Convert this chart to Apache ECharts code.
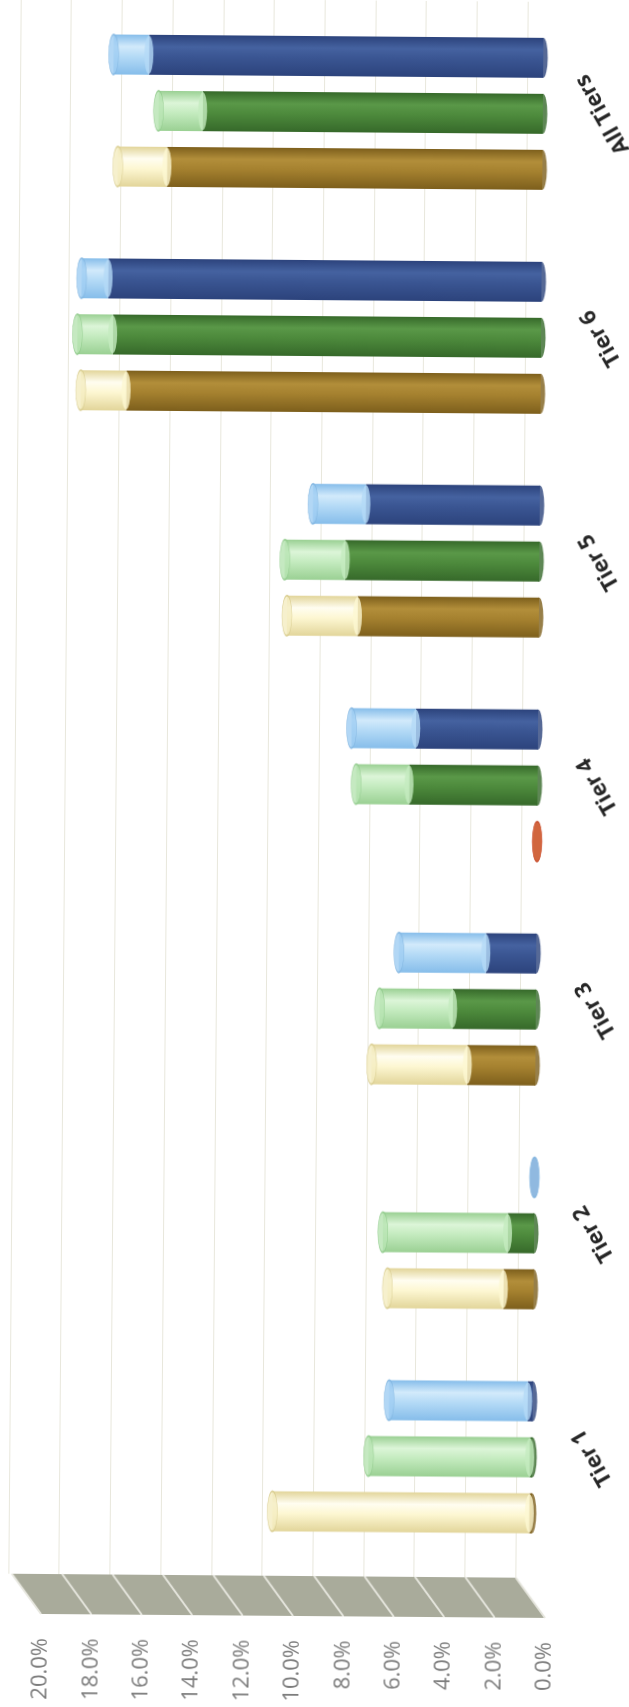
<!DOCTYPE html>
<html><head><meta charset="utf-8">
<script src="https://cdn.jsdelivr.net/npm/echarts@6/dist/echarts.min.js"></script>
<style>html,body{margin:0;padding:0;background:#fff;overflow:hidden}#c{width:629px;height:1707px;transform:rotate(0.45deg);transform-origin:300px 1620px}</style>
</head><body><div id="c"></div>
<script>
const categories = ['Tier 1','Tier 2','Tier 3','Tier 4','Tier 5','Tier 6','All Tiers'];
const goldDark   = [0.1, 1.2, 2.7, 0, 7.2, 16.45, 14.9];
const goldLight  = [10.2, 4.6, 3.8, 0, 2.8, 1.8, 1.95];
const greenDark  = [0.1, 1.05, 3.3, 5.1, 7.7, 17.0, 13.5];
const greenLight = [6.4, 4.95, 2.9, 2.1, 2.4, 1.4, 1.75];
const blueDark   = [0.2, 0, 2.0, 4.85, 6.9, 17.2, 15.65];
const blueLight  = [5.5, 0, 3.45, 2.55, 2.1, 1.05, 1.4];
const tickValues = [0, 2, 4, 6, 8, 10, 12, 14, 16, 18, 20];
const redCapCategory = 'Tier 4';

const BW = 40, GAP = 16;
const G = echarts.graphic;
function grad(edge, mid, hi) {
  return new G.LinearGradient(0, 0, 0, 1, [
    {offset: 0, color: edge}, {offset: 0.3, color: hi}, {offset: 0.55, color: mid}, {offset: 1, color: edge}
  ]);
}
const palette = {
  blue:  {dE:'#2c437c', dM:'#3a5592', dH:'#4562a0', lE:'#86bdea', lM:'#b4daf6', lH:'#d2eafb', cap:'#9fcdf2', capB:'#7fb4e0'},
  green: {dE:'#36692a', dM:'#4d8a3c', dH:'#5a9848', lE:'#9ad093', lM:'#c4ebbf', lH:'#dcf5d8', cap:'#b7e3b1', capB:'#8fc98a'},
  gold:  {dE:'#7d5f1c', dM:'#a5812f', dH:'#b28e3a', lE:'#e2d59a', lM:'#fdf7d2', lH:'#fffdf0', cap:'#f4ecc0', capB:'#d6c98a'}
};
// series order: first stack drawn on top of the group
const stacks = [
  {key:'blue',  dark: blueDark,  light: blueLight},
  {key:'green', dark: greenDark, light: greenLight},
  {key:'gold',  dark: goldDark,  light: goldLight}
];
const series = [];
stacks.forEach((s, si) => {
  const p = palette[s.key];
  const off = (si - 1) * (BW + GAP);
  series.push({type:'bar', name: s.key + ' base', stack: s.key, xAxisIndex:1, yAxisIndex:1,
    data: s.dark, barWidth: BW, barGap: (GAP / BW * 100) + '%', z: 2, silent: true,
    itemStyle: {color: grad(p.dE, p.dM, p.dH)}});
  series.push({type:'bar', name: s.key + ' top', stack: s.key, xAxisIndex:1, yAxisIndex:1,
    data: s.light, barWidth: BW, barGap: (GAP / BW * 100) + '%', z: 2, silent: true,
    itemStyle: {color: grad(p.lE, p.lM, p.lH)}});
  // base end of cylinder
  series.push({type:'scatter', xAxisIndex:1, yAxisIndex:1, z: 1, silent: true,
    data: categories.map((c, i) => [0, i]), symbol:'circle', symbolSize:[9, BW], symbolOffset:[0, off],
    itemStyle: {color: p.dE}});
  // rim where light part meets dark part
  series.push({type:'scatter', xAxisIndex:1, yAxisIndex:1, z: 3, silent: true,
    data: categories.map((c, i) => s.light[i] > 0 && s.dark[i] > 0 ? [s.dark[i], i] : null).filter(d => d),
    symbol:'circle', symbolSize:[9, BW - 2], symbolOffset:[0, off],
    itemStyle: {color: p.lM}});
  // top cap
  series.push({type:'scatter', xAxisIndex:1, yAxisIndex:1, z: 4, silent: true,
    data: categories.map((c, i) => {
      const v = s.dark[i] + s.light[i];
      const item = {value: [v, i]};
      if (s.key === 'gold' && c === redCapCategory && v === 0) item.itemStyle = {color:'#e0603c', borderColor:'#c84a2a'};
      return item;
    }),
    symbol:'circle', symbolSize:[10, BW], symbolOffset:[0, off],
    itemStyle: {color: p.cap, borderColor: p.capB, borderWidth: 1}});
});
// floor
series.push({type:'custom', xAxisIndex:2, yAxisIndex:2, silent: true, z: 0,
  data: [[0, 0]],
  renderItem: function (params, api) {
    const shift = 29.5;
    const bl = api.coord([20, 0]), br = api.coord([0, 0]);
    const tl = api.coord([20, 1]), tr = api.coord([0, 1]);
    const children = [{type:'polygon', shape:{points:[[tl[0]-shift, tl[1]], [tr[0]-shift, tr[1]], br, bl]},
      style:{fill:'#a9ab9b'}}];
    tickValues.forEach(v => {
      const b = api.coord([v, 0]), t = api.coord([v, 1]);
      children.push({type:'line', shape:{x1:t[0]-shift, y1:t[1], x2:b[0], y2:b[1]},
        style:{stroke:'#e6e6de', lineWidth:2}});
    });
    return {type:'group', children};
  }
});

const chart = echarts.init(document.getElementById('c'), null, {renderer:'canvas'});
chart.setOption({
  backgroundColor:'#ffffff',
  animation:false,
  grid:[
    {left:8, right:114, top:0, bottom:131},
    {left:27, right:98, top:-7.5, bottom:139.5},
    {left:41, right:84, top:1576, bottom:91}
  ],
  xAxis:[
    {gridIndex:0, type:'value', min:0, max:20, interval:2, inverse:true,
      axisLine:{show:false}, axisTick:{show:false}, axisLabel:{show:false},
      splitLine:{show:true, lineStyle:{color:'#e8e7dc', width:1}}},
    {gridIndex:1, type:'value', min:0, max:20, interval:2, inverse:true, show:false},
    {gridIndex:2, type:'value', min:0, max:20, interval:2, inverse:true,
      axisLine:{show:false}, axisTick:{show:false}, splitLine:{show:false},
      axisLabel:{rotate:90, margin:24, fontFamily:'Open Sans', fontSize:22, color:'#7c7c7c',
        showMinLabel:true, showMaxLabel:true, formatter: v => v.toFixed(1) + '%'}}
  ],
  yAxis:[
    {gridIndex:0, type:'value', min:0, max:1, show:false},
    {gridIndex:1, type:'category', data:categories, position:'right',
      axisLine:{show:false}, axisTick:{show:false}, splitLine:{show:false},
      axisLabel:{rotate:120, align:'center', verticalAlign:'middle', margin:60,
        fontFamily:'Open Sans', fontWeight:700, fontSize:22, color:'#262626'}},
    {gridIndex:2, type:'value', min:0, max:1, show:false}
  ],
  series
});
</script></body></html>
